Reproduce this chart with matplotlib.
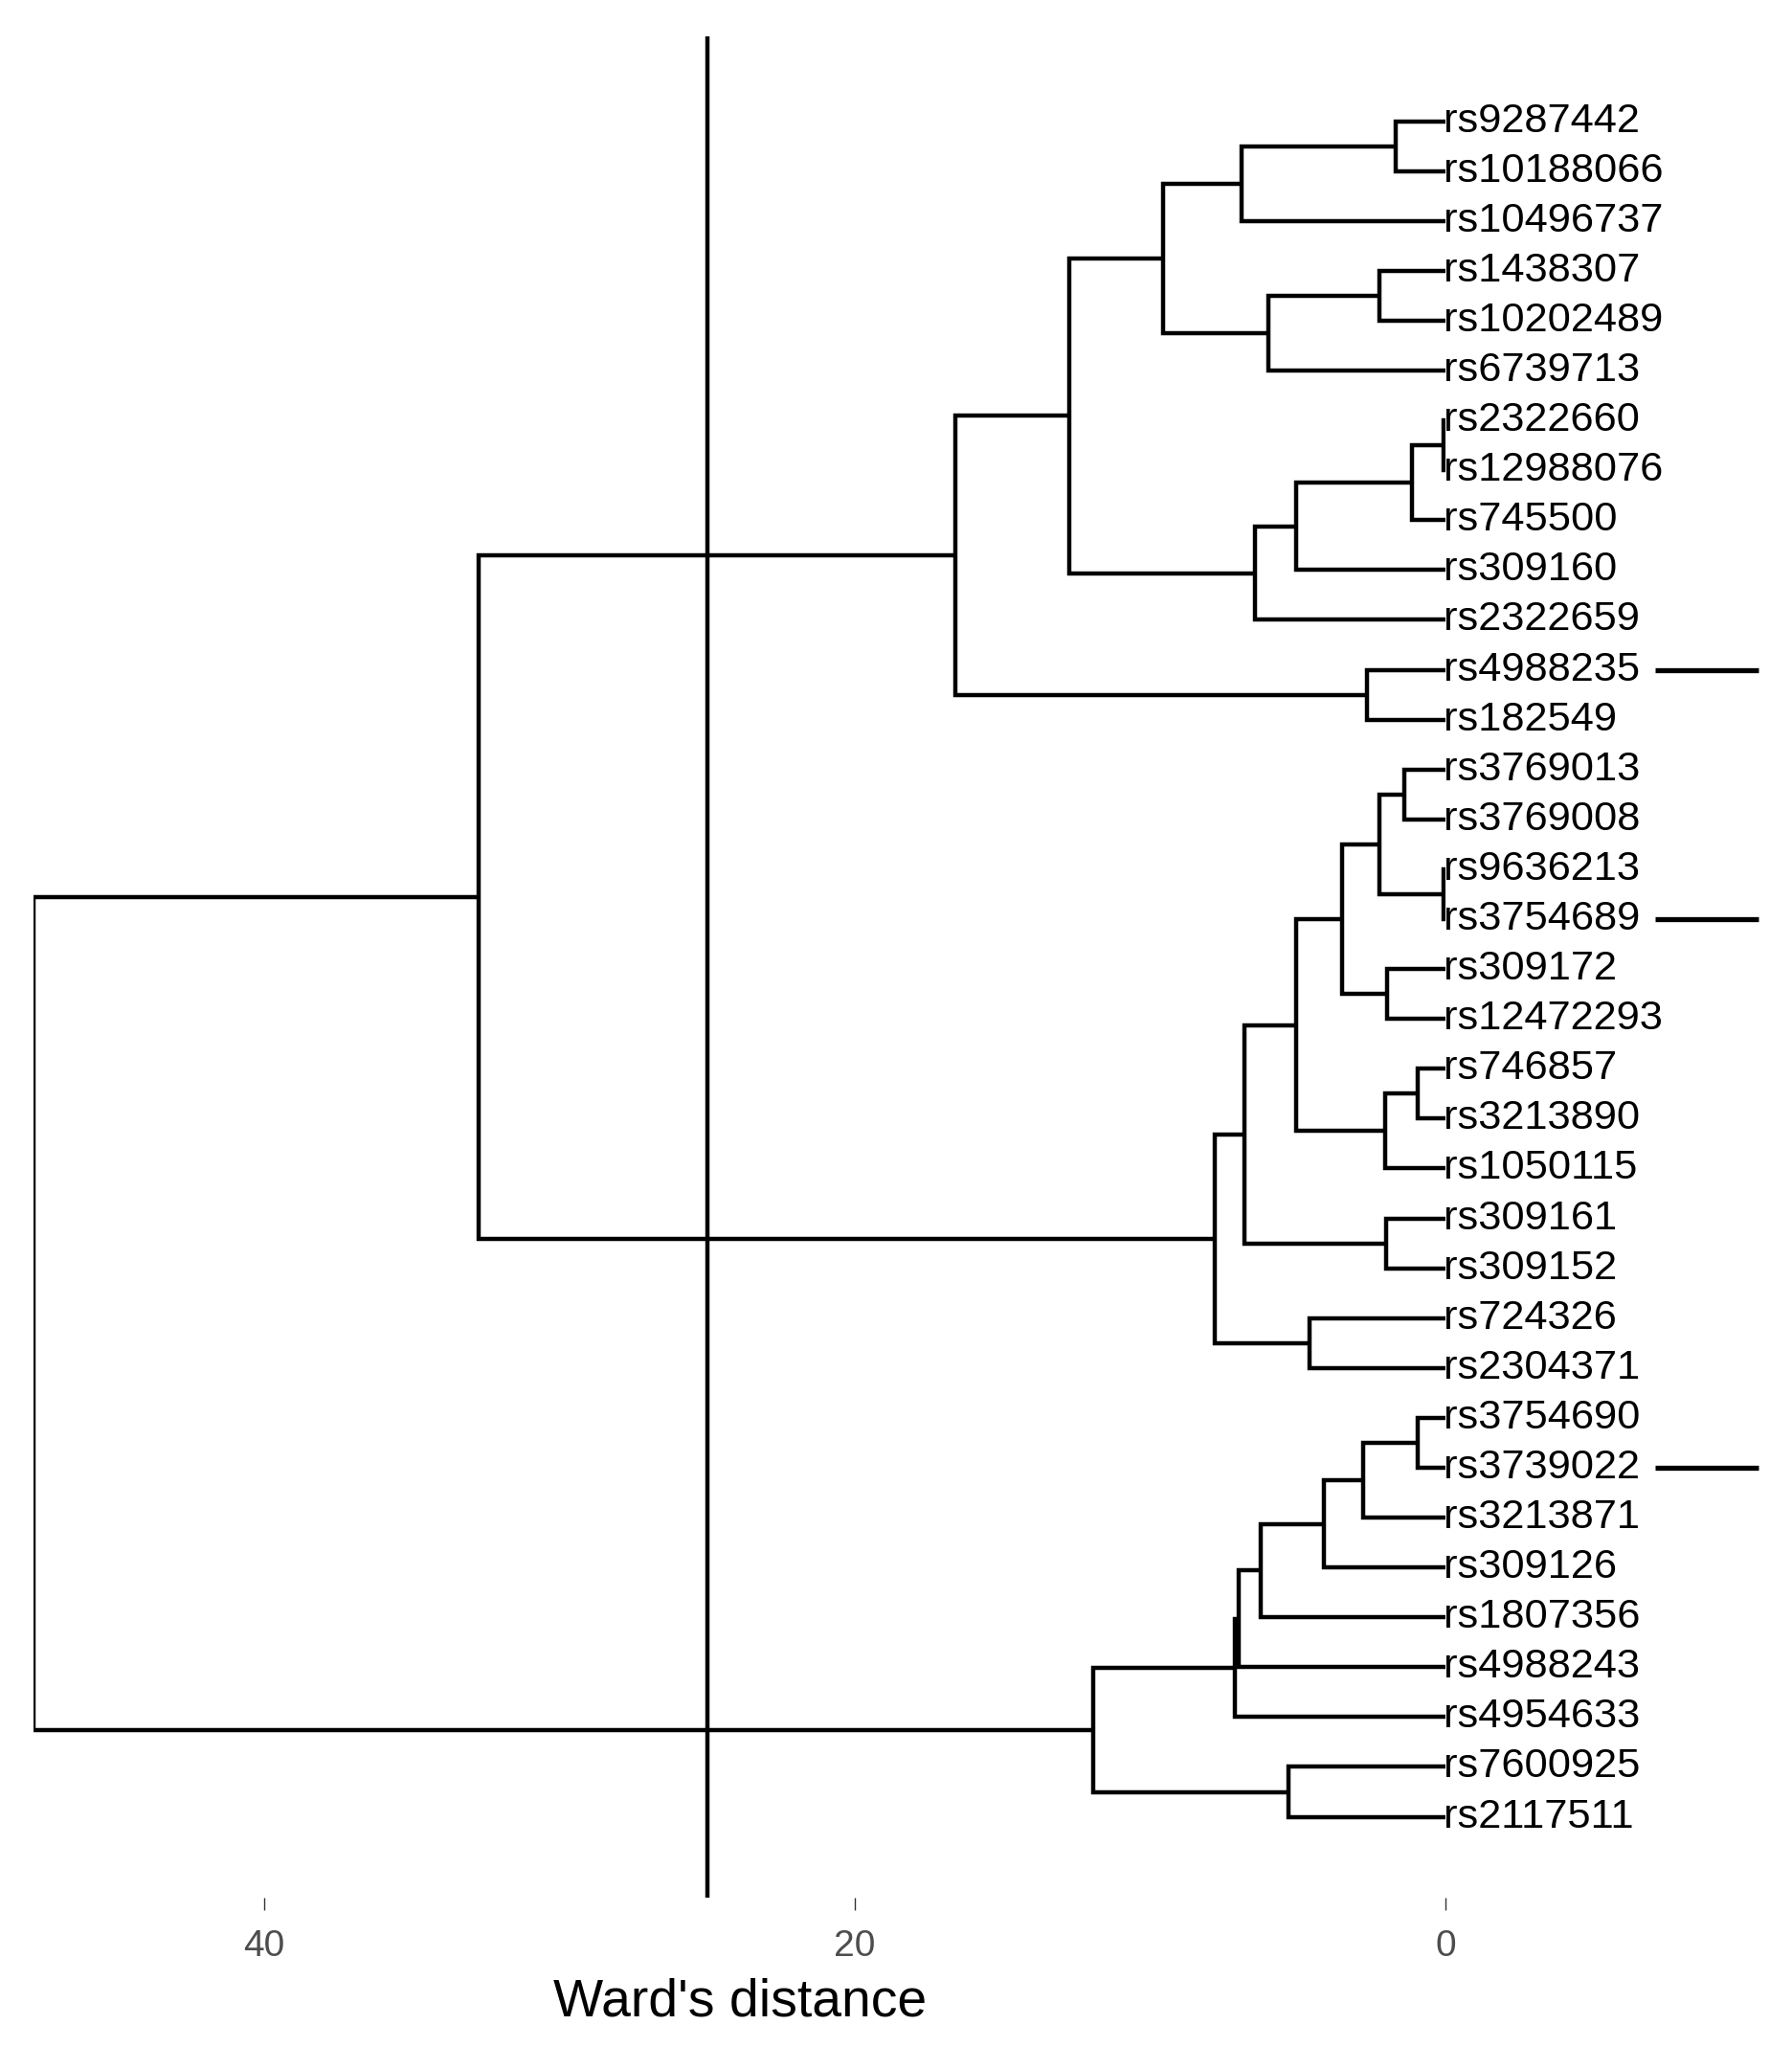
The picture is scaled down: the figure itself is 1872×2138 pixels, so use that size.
import numpy as np
import matplotlib
matplotlib.use("Agg")
import matplotlib.pyplot as plt

plt.rcParams['font.family'] = ['Liberation Sans', 'DejaVu Sans']

# leaf labels, top to bottom
snps = ["rs9287442", "rs10188066", "rs10496737", "rs1438307", "rs10202489",
        "rs6739713", "rs2322660", "rs12988076", "rs745500", "rs309160",
        "rs2322659", "rs4988235", "rs182549", "rs3769013", "rs3769008",
        "rs9636213", "rs3754689", "rs309172", "rs12472293", "rs746857",
        "rs3213890", "rs1050115", "rs309161", "rs309152", "rs724326",
        "rs2304371", "rs3754690", "rs3739022", "rs3213871", "rs309126",
        "rs1807356", "rs4988243", "rs4954633", "rs7600925", "rs2117511"]

# merges: child a, child b, Ward's distance (new node ids start at len(snps))
merge_a = [0, 35, 3, 37, 36, 6, 40, 41, 42, 39, 11, 44,
           13, 15, 47, 17, 49, 19, 52, 51, 22, 54, 24, 56, 46,
           26, 60, 61, 62, 63, 64, 33, 65, 59]
merge_b = [1, 2, 4, 5, 38, 7, 8, 9, 10, 43, 12, 45,
           14, 16, 48, 18, 50, 20, 21, 53, 23, 55, 25, 57, 58,
           27, 28, 29, 30, 31, 32, 34, 66, 67]
merge_h = [1.7, 6.9, 2.25, 6.0, 9.55, 0.06, 1.12, 5.05, 6.45, 12.73, 2.65, 16.6,
           1.4, 0.06, 2.22, 1.97, 3.5, 0.94, 2.04, 5.05, 2.0, 6.8, 4.6, 7.8, 32.75,
           0.95, 2.8, 4.12, 6.25, 7.0, 7.12, 5.3, 11.93, 47.8]

cut_height = 25
marked = ["rs4988235", "rs3754689", "rs3739022"]

n = len(snps)
ypos = {i: float(i) for i in range(n)}
hpos = {i: 0.0 for i in range(n)}

fig = plt.figure(figsize=(9.36, 10.69), dpi=200)
ax = fig.add_axes([0.01886, 0.0730, 0.8066 - 0.01886, 0.9822 - 0.0730])

for k, (a, b, h) in enumerate(zip(merge_a, merge_b, merge_h)):
    node = n + k
    ya, yb = ypos[a], ypos[b]
    ax.plot([hpos[a], h, h, hpos[b]], [ya, ya, yb, yb], color='black',
            lw=1.6, solid_joinstyle='miter', solid_capstyle='butt')
    ypos[node] = (ya + yb) / 2
    hpos[node] = h

for i, s in enumerate(snps):
    ax.text(0.05, i, s, ha='left', va='center', fontsize=15.6, clip_on=False)
    if s in marked:
        ax.plot([-7.1, -10.6], [i, i], color='black', lw=1.9, clip_on=False,
                solid_capstyle='butt')

ax.axvline(cut_height, color='black', lw=1.6)

ax.set_xlim(47.8, 0)
ax.set_ylim(35.62, -1.70)
ax.set_xticks([40, 20, 0])
ax.set_yticks([])
ax.tick_params(axis='x', length=4.5, width=0.5, color='#333333',
               labelcolor='#4d4d4d', labelsize=14, pad=7.5)
for sp in ax.spines.values():
    sp.set_visible(False)
ax.set_xlabel("Ward's distance", fontsize=19.9, labelpad=5)

fig.savefig("out.png", dpi=200, facecolor='white')
